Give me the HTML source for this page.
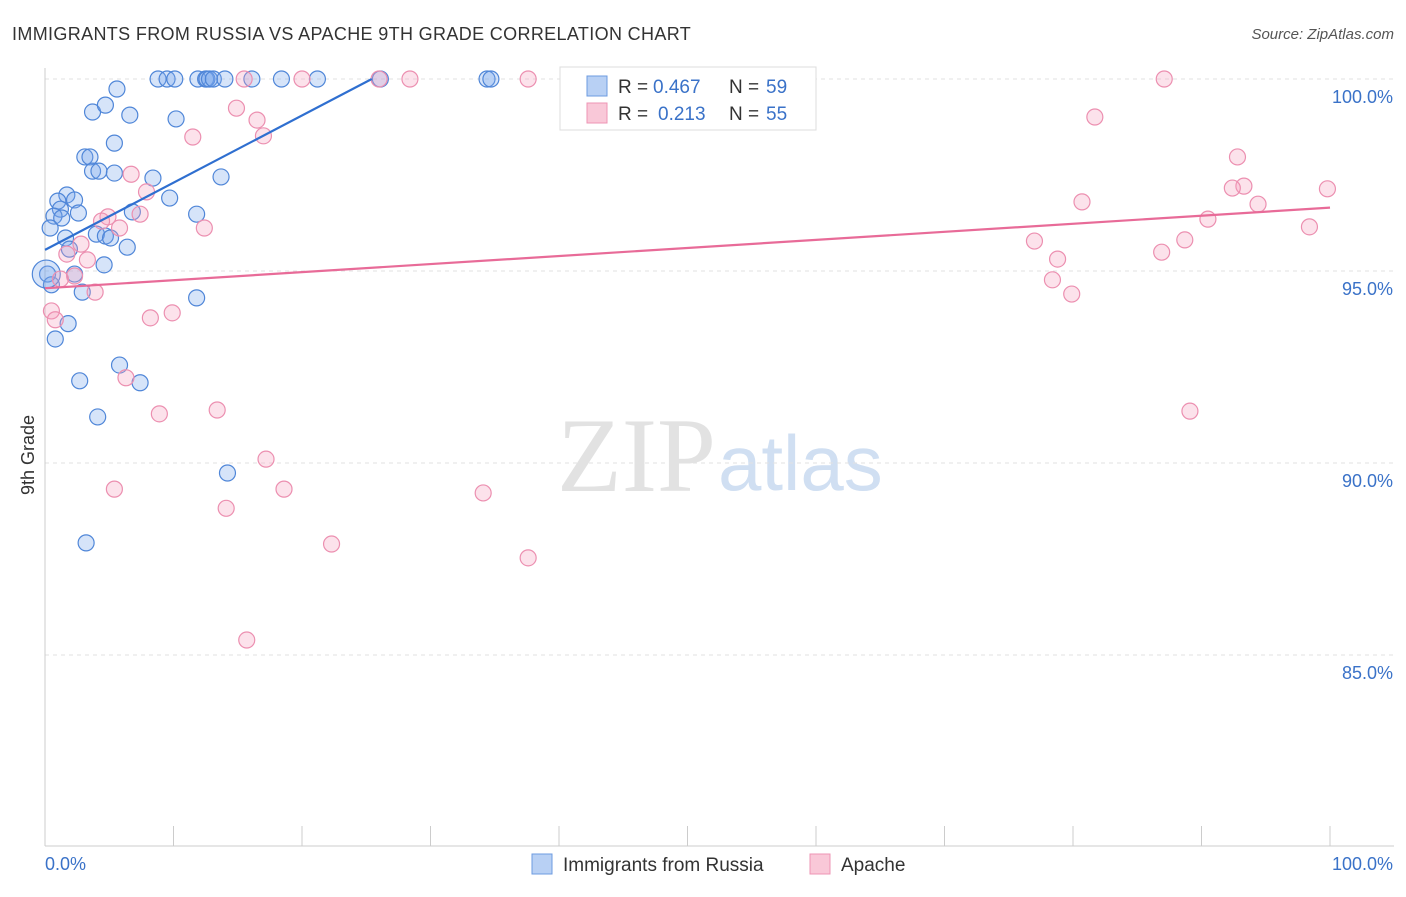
<!DOCTYPE html>
<html><head><meta charset="utf-8"><style>
body{margin:0;background:#fff;font-family:"Liberation Sans",sans-serif;}
</style></head><body>
<svg id="c" width="1406" height="892" xmlns="http://www.w3.org/2000/svg">
<text x="12" y="40" font-size="18" fill="#333" letter-spacing="0.35">IMMIGRANTS FROM RUSSIA VS APACHE 9TH GRADE CORRELATION CHART</text>
<text x="1394" y="39" font-size="15" fill="#555" font-style="italic" text-anchor="end">Source: ZipAtlas.com</text>
<text x="716" y="491" font-size="106" fill="#e2e2e2" font-family="Liberation Serif,serif" text-anchor="end">ZIP</text>
<text x="718" y="490" font-size="78" fill="#d0dff2">atlas</text>
<g id="grid"></g><g id="pts"></g><g id="lines"></g>
<text transform="translate(34,455) rotate(-90)" font-size="18" fill="#333" text-anchor="middle">9th Grade</text>
<text x="45" y="870" font-size="18" fill="#3a72c8">0.0%</text>
<text x="1393" y="870" font-size="18" fill="#3a72c8" text-anchor="end">100.0%</text>
<g>
<rect x="560" y="67" width="256" height="63" fill="#fff" stroke="#ddd"/>
<rect x="587" y="76" width="20" height="20" fill="#b8d0f4" stroke="#6d9be0"/>
<rect x="587" y="103" width="20" height="20" fill="#f9c8d8" stroke="#ee94b4"/>
<text x="618" y="93" font-size="19" fill="#333">R =</text>
<text x="653" y="93" font-size="19" fill="#3a72c8">0.467</text>
<text x="729" y="93" font-size="19" fill="#333">N =</text>
<text x="766" y="93" font-size="19" fill="#3a72c8">59</text>
<text x="618" y="120" font-size="19" fill="#333">R =</text>
<text x="658" y="120" font-size="19" fill="#3a72c8">0.213</text>
<text x="729" y="120" font-size="19" fill="#333">N =</text>
<text x="766" y="120" font-size="19" fill="#3a72c8">55</text>
</g>
<g>
<rect x="532" y="854" width="20" height="20" fill="#b8d0f4" stroke="#6d9be0"/>
<text x="563" y="871" font-size="19" fill="#333">Immigrants from Russia</text>
<rect x="810" y="854" width="20" height="20" fill="#f9c8d8" stroke="#ee94b4"/>
<text x="841" y="871" font-size="19" fill="#333">Apache</text>
</g>
</svg>
<script>
const yTicks=[100,95,90,85];
const xTicks=[0,10,20,30,40,50,60,70,80,90,100];
const blueX=[8.8,9.5,10.1,11.9,12.5,12.6,12.8,13.1,14,16.1,18.4,21.2,26.1,34.4,34.7,5.6,3.7,4.7,6.6,10.2,5.4,3.1,3.5,3.7,4.2,5.4,8.4,13.7,1.7,1,2.3,1.2,0.7,2.6,1.3,6.8,9.7,11.8,0.4,1.6,4.0,4.7,5.1,1.9,6.4,4.6,2.3,0.2,0.5,2.9,11.8,1.8,0.8,5.8,2.7,7.4,4.1,14.2,3.2,0.1];
const blueY=[100,100,100,100,100,100,100,100,100,100,100,100,100,100,100,99.74,99.14,99.32,99.06,98.96,98.33,97.97,97.97,97.6,97.6,97.55,97.42,97.45,96.98,96.82,96.85,96.61,96.43,96.51,96.38,96.54,96.9,96.48,96.12,95.86,95.96,95.91,95.86,95.57,95.62,95.16,94.92,94.92,94.64,94.45,94.3,93.63,93.23,92.55,92.14,92.09,91.2,89.74,87.92,94.92];
const pinkX=[15.5,20,26,28.4,37.6,87.1,14.9,81.7,16.5,11.5,17,92.8,6.7,7.9,93.3,92.4,99.8,80.7,94.4,7.4,4.9,4.4,90.5,5.8,12.4,98.4,77,88.7,2.8,1.7,86.9,78.8,3.3,2.3,1.2,78.4,3.9,79.9,0.5,8.2,9.9,0.8,6.3,13.4,8.9,89.1,17.2,5.4,18.6,34.1,14.1,22.3,37.6,15.7];
const pinkY=[100,100,100,100,100,100,99.24,99.01,98.93,98.49,98.52,97.97,97.52,97.06,97.21,97.16,97.14,96.8,96.74,96.48,96.41,96.3,96.35,96.12,96.12,96.15,95.78,95.81,95.7,95.44,95.49,95.31,95.29,94.87,94.79,94.77,94.45,94.40,93.96,93.78,93.91,93.73,92.22,91.38,91.28,91.35,90.1,89.32,89.32,89.22,88.82,87.89,87.53,85.39];
const blueLine=[95.55,0.175]; // intercept, slope per % x
const pinkLine=[94.55,0.021];
const X=v=>45+v*12.85, Y=v=>79+(100-v)*38.4;
const NS="http://www.w3.org/2000/svg";
function mk(tag,at,par){const e=document.createElementNS(NS,tag);for(const k in at)e.setAttribute(k,at[k]);par.appendChild(e);return e;}
const g=document.getElementById('grid');
for(const t of yTicks){
 const l=mk('line',{x1:45,x2:1394,y1:Y(t),y2:Y(t),stroke:'#e2e2e2','stroke-dasharray':'4,4'},g);
 
 
 const tx=mk('text',{x:1393,y:Y(t)+24,'font-size':18,fill:'#3a72c8','text-anchor':'end'},g);
 tx.textContent=t.toFixed(1)+'%';
 
 
}
mk('line',{x1:45,x2:45,y1:68,y2:846,stroke:'#ccc'},g);
mk('line',{x1:45,x2:1394,y1:846,y2:846,stroke:'#ccc'},g);
for(const t of xTicks){
 const l=mk('line',{x1:X(t),x2:X(t),y1:826,y2:846,stroke:'#ccc'},g);
 
 
}
const p=document.getElementById('pts');
blueX.forEach((x,i)=>{const c=mk('circle',{cx:X(x),cy:Y(blueY[i]),r:i==blueX.length-1?14:8,fill:'rgba(120,165,235,0.3)',stroke:'#4f86d8','stroke-width':1.2},p);
 
 });
pinkX.forEach((x,i)=>{const c=mk('circle',{cx:X(x),cy:Y(pinkY[i]),r:8,fill:'rgba(245,160,190,0.3)',stroke:'#ec8fb0','stroke-width':1.2},p);
 
 });
const L=document.getElementById('lines');
const bx2=(100-blueLine[0])/blueLine[1];
const bl=mk('line',{x1:X(0),y1:Y(blueLine[0]),x2:X(bx2),y2:Y(100),stroke:'#2f6fd0','stroke-width':2.2},L);


const pl=mk('line',{x1:X(0),y1:Y(pinkLine[0]),x2:X(100),y2:Y(pinkLine[0]+100*pinkLine[1]),stroke:'#e86b98','stroke-width':2.2},L);


</script>
</body></html>
